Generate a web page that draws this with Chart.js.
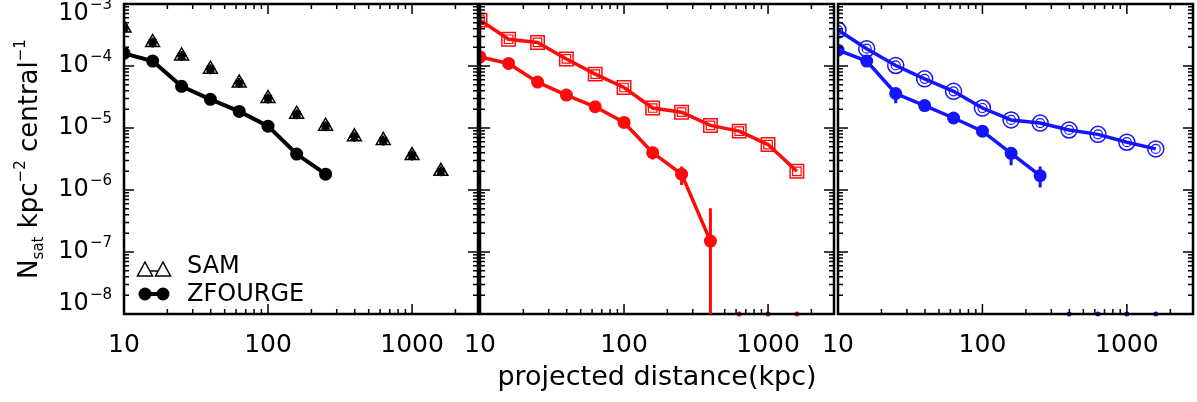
<!DOCTYPE html>
<html lang="en">
<head>
  <meta charset="UTF-8" />
  <title>Satellite surface density vs projected distance</title>
  <script src="https://cdn.jsdelivr.net/npm/chart.js"></script>
  <style>
    body { margin: 0; background: #fff; }
    .wrap { position: relative; width: 1197px; height: 402px; }
    .wrap canvas { position: absolute; left: 0; top: 0; }
  </style>
</head>
<body>
  <div class="wrap">
    <canvas id="panelSam" width="1197" height="402"></canvas>
    <canvas id="panelRed" width="1197" height="402"></canvas>
    <canvas id="panelBlue" width="1197" height="402"></canvas>
  </div>

  <script>
    // projected distance bins (kpc)
    const distKpc = [10, 15.8, 25.1, 39.8, 63.1, 100, 158, 251, 398, 631, 1000, 1585];

    // panel 1 (black)
    const samAll = [4.1e-4, 2.4e-4, 1.45e-4, 8.9e-5, 5.3e-5, 3.0e-5, 1.67e-5, 1.07e-5, 7.2e-6, 6.3e-6, 3.6e-6, 2.0e-6];
    const zfAll = [1.6e-4, 1.2e-4, 4.7e-5, 2.9e-5, 1.85e-5, 1.07e-5, 3.8e-6, 1.8e-6, null, null, null, null];

    // panel 2 (red)
    const samRed = [5.5e-4, 2.7e-4, 2.4e-4, 1.3e-4, 7.4e-5, 4.5e-5, 2.1e-5, 1.8e-5, 1.1e-5, 8.9e-6, 5.4e-6, 2.0e-6];
    const zfRed = [1.4e-4, 1.1e-4, 5.5e-5, 3.4e-5, 2.2e-5, 1.23e-5, 4.0e-6, 1.8e-6, 1.5e-7, null, null, null];
    const zfRedHi = [null, 1.3e-4, null, null, null, null, 5.0e-6, 2.4e-6, 5.1e-7, null, null, null];
    const zfRedLo = [null, 9.5e-5, null, null, null, null, 3.1e-6, 1.2e-6, 1e-9, null, null, null];
    const zeroRedKpc = [631, 1000, 1585];

    // panel 3 (blue)
    const samBlue = [3.8e-4, 1.9e-4, 1.02e-4, 6.2e-5, 3.9e-5, 2.1e-5, 1.35e-5, 1.2e-5, 9.3e-6, 7.9e-6, 5.9e-6, 4.6e-6];
    const zfBlue = [1.8e-4, 1.2e-4, 3.6e-5, 2.3e-5, 1.45e-5, 8.9e-6, 3.9e-6, 1.7e-6, null, null, null, null];
    const zfBlueHi = [null, null, 4.2e-5, 2.6e-5, null, null, 4.7e-6, 2.4e-6, null, null, null, null];
    const zfBlueLo = [null, null, 2.5e-5, 2.0e-5, null, null, 2.5e-6, 1.1e-6, null, null, null, null];
    const zeroBlueKpc = [398, 631, 1000, 1585];

    const floorValue = 1e-8;
    const xTickLabels = [10, 100, 1000];
    const yExponents = [-3, -4, -5, -6, -7, -8];

    const RED = 'rgb(255,10,10)';
    const BLUE = 'rgb(20,20,255)';
    const FONT = '"DejaVu Sans", sans-serif';

    const pts = arr => distKpc.map((d, i) => ({x: d, y: arr[i]}));
    const floorPts = xs => xs.map(d => ({x: d, y: floorValue}));

    function logTicks(scale) {
      const ticks = [];
      const e0 = Math.floor(Math.log10(scale.min)), e1 = Math.ceil(Math.log10(scale.max));
      for (let e = e0; e <= e1; e++) {
        for (let m = 1; m < 10; m++) {
          const v = m * Math.pow(10, e);
          if (v >= scale.min * 0.999 && v <= scale.max * 1.001) ticks.push({value: v});
        }
      }
      scale.ticks = ticks;
    }
    const isDecade = v => Math.abs(Math.log10(v) - Math.round(Math.log10(v))) < 1e-6;

    // IDL style frame with inward ticks on all four sides
    const frameTicks = {
      id: 'frameTicks',
      afterDatasetsDraw(chart) {
        const {ctx, chartArea: a, scales: {x, y}} = chart;
        ctx.save();
        ctx.strokeStyle = '#000';
        ctx.lineWidth = 1.5;
        ctx.beginPath();
        x.ticks.forEach(t => {
          const px = x.getPixelForValue(t.value);
          if (px < a.left + 1 || px > a.right - 1) return;
          const len = isDecade(t.value) ? 10 : 5;
          ctx.moveTo(px, a.bottom); ctx.lineTo(px, a.bottom - len);
          ctx.moveTo(px, a.top); ctx.lineTo(px, a.top + len);
        });
        y.ticks.forEach(t => {
          const py = y.getPixelForValue(t.value);
          if (py < a.top + 1 || py > a.bottom - 1) return;
          const len = isDecade(t.value) ? 10 : 5;
          ctx.moveTo(a.left, py); ctx.lineTo(a.left + len, py);
          ctx.moveTo(a.right, py); ctx.lineTo(a.right - len, py);
        });
        ctx.stroke();
        ctx.lineWidth = 2.5;
        ctx.strokeRect(a.left, a.top, a.width, a.height);
        ctx.restore();
      }
    };

    const errorBars = {
      id: 'errorBars',
      afterDatasetsDraw(chart, args, opts) {
        if (!opts.bars) return;
        const {ctx, chartArea: a, scales: {x, y}} = chart;
        ctx.save();
        ctx.beginPath();
        ctx.rect(a.left, a.top, a.width, a.height);
        ctx.clip();
        opts.bars.forEach(b => {
          ctx.strokeStyle = b.color;
          ctx.lineWidth = 3;
          ctx.beginPath();
          distKpc.forEach((d, i) => {
            if (b.hi[i] == null) return;
            const px = x.getPixelForValue(d);
            ctx.moveTo(px, y.getPixelForValue(b.hi[i]));
            ctx.lineTo(px, y.getPixelForValue(b.lo[i]));
          });
          ctx.stroke();
        });
        ctx.restore();
      }
    };

    // y tick labels with real superscripts, clamped inside the frame like the IDL plot
    const yLabels = {
      id: 'yLabels',
      afterDraw(chart) {
        const {ctx, chartArea: a, scales: {y}} = chart;
        ctx.save();
        ctx.fillStyle = '#000';
        ctx.textBaseline = 'middle';
        yExponents.forEach(e => {
          let py = y.getPixelForValue(Math.pow(10, e));
          py = Math.min(Math.max(py, a.top + 10), a.bottom - 10);
          const exp = '\u2212' + Math.abs(e);
          ctx.font = '15px ' + FONT;
          ctx.textAlign = 'right';
          const w = ctx.measureText(exp).width;
          ctx.fillText(exp, a.left - 12, py - 9);
          ctx.font = '24px ' + FONT;
          ctx.fillText('10', a.left - 13 - w, py);
        });
        ctx.restore();
      }
    };

    // rotated y title: N_sat kpc^-2 central^-1
    const yTitle = {
      id: 'yTitle',
      afterDraw(chart) {
        const {ctx} = chart;
        const parts = [
          {t: 'N', size: 26, dy: 0},
          {t: 'sat', size: 15, dy: 6},
          {t: ' kpc', size: 26, dy: 0},
          {t: '\u22122', size: 15, dy: -12},
          {t: ' central', size: 26, dy: 0},
          {t: '\u22121', size: 15, dy: -12}
        ];
        ctx.save();
        ctx.fillStyle = '#000';
        ctx.textBaseline = 'alphabetic';
        ctx.textAlign = 'left';
        let total = 0;
        parts.forEach(p => { ctx.font = p.size + 'px ' + FONT; p.w = ctx.measureText(p.t).width; total += p.w; });
        ctx.translate(37, 159);
        ctx.rotate(-Math.PI / 2);
        let cx = -total / 2;
        parts.forEach(p => {
          ctx.font = p.size + 'px ' + FONT;
          ctx.fillText(p.t, cx, p.dy);
          cx += p.w;
        });
        ctx.restore();
      }
    };

    const legendBox = {
      id: 'legendBox',
      afterDraw(chart) {
        const {ctx} = chart;
        ctx.save();
        ctx.strokeStyle = '#000';
        ctx.fillStyle = '#000';
        // SAM: triangle - triangle
        ctx.lineWidth = 1.5;
        ctx.beginPath(); ctx.moveTo(145, 271); ctx.lineTo(163, 271); ctx.stroke();
        [145, 163].forEach(cx => {
          ctx.beginPath();
          ctx.moveTo(cx, 262); ctx.lineTo(cx + 7.5, 276); ctx.lineTo(cx - 7.5, 276); ctx.closePath();
          ctx.fillStyle = '#fff'; ctx.fill(); ctx.stroke();
        });
        // ZFOURGE: dot - dot
        ctx.fillStyle = '#000';
        ctx.lineWidth = 4;
        ctx.beginPath(); ctx.moveTo(145, 294); ctx.lineTo(163, 294); ctx.stroke();
        [145, 163].forEach(cx => { ctx.beginPath(); ctx.arc(cx, 294, 6.5, 0, Math.PI * 2); ctx.fill(); });
        ctx.font = '24px ' + FONT;
        ctx.textBaseline = 'middle';
        ctx.fillText('SAM', 187, 267);
        ctx.fillText('ZFOURGE', 187, 295);
        ctx.restore();
      }
    };

    function panelOptions(left, right, extraX, errOpts) {
      return {
        responsive: false,
        animation: false,
        events: [],
        layout: { autoPadding: false, padding: { left: 0, right: 1197 - right, top: 4, bottom: 0 } },
        plugins: {
          legend: { display: false },
          tooltip: { enabled: false },
          errorBars: errOpts || {}
        },
        scales: {
          x: Object.assign({
            type: 'logarithmic',
            min: 10, max: 2870,
            afterBuildTicks: logTicks,
            afterFit: s => { s.height = 88; },
            grid: { display: false, drawTicks: false },
            border: { display: false },
            ticks: {
              autoSkip: false, maxRotation: 0, minRotation: 0, padding: 16,
              color: '#000', font: { family: FONT, size: 25 },
              callback: v => xTickLabels.includes(v) ? String(v) : ''
            }
          }, extraX || {}),
          y: {
            type: 'logarithmic',
            min: 1e-8, max: 1e-3,
            afterBuildTicks: logTicks,
            afterFit: s => { s.width = left; },
            grid: { display: false, drawTicks: false },
            border: { display: false },
            ticks: { display: false }
          }
        }
      };
    }

    new Chart(document.getElementById('panelSam'), {
      type: 'scatter',
      data: {
        datasets: [{
          label: 'SAM',
          data: pts(samAll),
          showLine: false,
          pointStyle: 'triangle', pointRadius: 8,
          backgroundColor: '#fff', borderColor: '#000', borderWidth: 1.5,
          order: 3
        }, {
          label: 'SAM star',
          data: pts(samAll),
          showLine: false,
          pointStyle: 'star', pointRadius: 5,
          borderColor: '#000', borderWidth: 2.5,
          order: 2
        }, {
          label: 'ZFOURGE',
          data: pts(zfAll),
          showLine: true, spanGaps: false,
          borderColor: '#000', borderWidth: 4,
          pointRadius: 6.5, pointBackgroundColor: '#000', pointBorderWidth: 0,
          order: 1
        }]
      },
      options: panelOptions(124, 478),
      plugins: [frameTicks, yLabels, yTitle, legendBox]
    });

    new Chart(document.getElementById('panelRed'), {
      type: 'scatter',
      data: {
        datasets: [{
          label: 'SAM',
          data: pts(samRed),
          showLine: true,
          borderColor: RED, borderWidth: 3.5,
          pointStyle: 'rect', pointRadius: 9.5,
          pointBackgroundColor: 'rgba(0,0,0,0)', pointBorderColor: RED, pointBorderWidth: 1.5
        }, {
          label: 'SAM inner',
          data: pts(samRed),
          showLine: false,
          pointStyle: 'rect', pointRadius: 6,
          backgroundColor: 'rgba(0,0,0,0)', borderColor: RED, borderWidth: 1.2
        }, {
          label: 'ZFOURGE',
          data: pts(zfRed),
          showLine: true, spanGaps: false,
          borderColor: RED, borderWidth: 3.5,
          pointRadius: 6.5, pointBackgroundColor: RED, pointBorderWidth: 0
        }, {
          label: 'ZFOURGE zero',
          data: floorPts(zeroRedKpc),
          showLine: false, clip: 4,
          pointRadius: 2.5, pointBackgroundColor: RED, pointBorderWidth: 0
        }]
      },
      options: panelOptions(480, 834, {
        title: {
          display: true, text: 'projected distance(kpc)', color: '#000',
          font: { family: FONT, size: 27 }, padding: { top: 0, bottom: 8 }
        }
      }, { bars: [{ hi: zfRedHi, lo: zfRedLo, color: RED }] }),
      plugins: [frameTicks, errorBars]
    });

    new Chart(document.getElementById('panelBlue'), {
      type: 'scatter',
      data: {
        datasets: [{
          label: 'SAM',
          data: pts(samBlue),
          showLine: true,
          borderColor: BLUE, borderWidth: 3.5,
          pointStyle: 'circle', pointRadius: 8,
          pointBackgroundColor: 'rgba(0,0,0,0)', pointBorderColor: BLUE, pointBorderWidth: 1.5
        }, {
          label: 'SAM inner',
          data: pts(samBlue),
          showLine: false,
          pointStyle: 'circle', pointRadius: 4.5,
          backgroundColor: 'rgba(0,0,0,0)', borderColor: BLUE, borderWidth: 1.2
        }, {
          label: 'ZFOURGE',
          data: pts(zfBlue),
          showLine: true, spanGaps: false,
          borderColor: BLUE, borderWidth: 3.5,
          pointRadius: 6.5, pointBackgroundColor: BLUE, pointBorderWidth: 0
        }, {
          label: 'ZFOURGE zero',
          data: floorPts(zeroBlueKpc),
          showLine: false, clip: 4,
          pointRadius: 2.5, pointBackgroundColor: BLUE, pointBorderWidth: 0
        }]
      },
      options: panelOptions(838, 1193, null, { bars: [{ hi: zfBlueHi, lo: zfBlueLo, color: BLUE }] }),
      plugins: [frameTicks, errorBars]
    });
  </script>
</body>
</html>
